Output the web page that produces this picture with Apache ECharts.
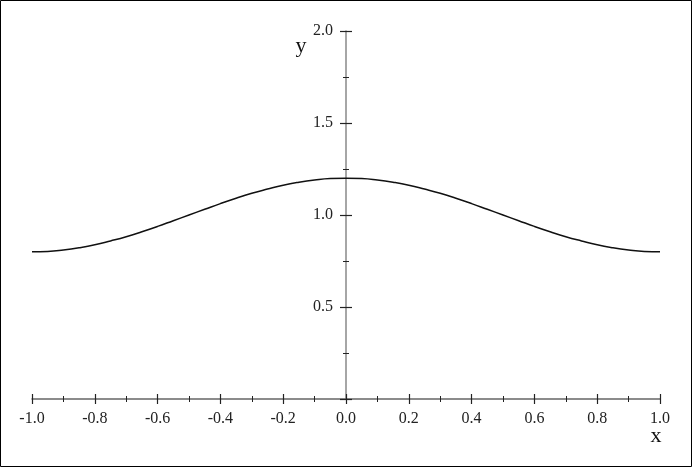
<!DOCTYPE html>
<html>
<head>
<meta charset="utf-8">
<script src="https://cdn.jsdelivr.net/npm/echarts@6/dist/echarts.min.js"></script>
<style>
html,body{margin:0;padding:0;background:#fff;}
#chart{width:692px;height:467px;}
</style>
</head>
<body>
<div id="chart"></div>
<script>
const xValues = [-1.0,-0.95,-0.9,-0.85,-0.8,-0.75,-0.7,-0.65,-0.6,-0.55,-0.5,-0.45,-0.4,-0.35,-0.3,-0.25,-0.2,-0.15,-0.1,-0.05,
  0.0,0.05,0.1,0.15,0.2,0.25,0.3,0.35,0.4,0.45,0.5,0.55,0.6,0.65,0.7,0.75,0.8,0.85,0.9,0.95,1.0];
const yValues = [0.800,0.802,0.810,0.822,0.838,0.859,0.882,0.909,0.938,0.969,1.000,1.031,1.062,1.091,1.118,1.141,1.162,1.178,1.190,1.198,
  1.200,1.198,1.190,1.178,1.162,1.141,1.118,1.091,1.062,1.031,1.000,0.969,0.938,0.909,0.882,0.859,0.838,0.822,0.810,0.802,0.800];
const xAxisName = 'x';
const yAxisName = 'y';

const serif = '"Liberation Serif", "DejaVu Serif", serif';
const tickColor = '#222';
const lineColor = '#888';
const gridLeft = 32, gridWidth = 628;
// y axis sits at x = 0 (middle of the grid)
const yAxisOffset = -gridWidth / 2;

const chart = echarts.init(document.getElementById('chart'), null, {renderer: 'canvas'});
const pts = xValues.map((x, i) => [x, yValues[i]]);

function xAxisCfg(inside, showLabel, showLine) {
  return {
    type: 'value', min: -1, max: 1, interval: 0.2, position: 'bottom',
    axisLine: {show: showLine, onZero: false, lineStyle: {color: '#666', width: 1.5}},
    axisTick: {show: true, inside: inside, length: 5, lineStyle: {color: tickColor, width: 1.2}},
    minorTick: {show: true, splitNumber: 2, length: 3, lineStyle: {color: tickColor, width: 1}},
    splitLine: {show: false},
    axisLabel: {show: showLabel, margin: 12, color: '#222', fontFamily: serif, fontSize: 16,
      formatter: v => v.toFixed(1)}
  };
}
function yAxisCfg(inside, showLabel, showLine) {
  return {
    type: 'value', min: 0, max: 2, interval: 0.5, position: 'left', offset: yAxisOffset,
    axisLine: {show: showLine, onZero: false, lineStyle: {color: lineColor, width: 1.5}},
    axisTick: {show: true, inside: inside, length: 6, lineStyle: {color: tickColor, width: 1.2}},
    minorTick: {show: true, splitNumber: 2, length: 3, lineStyle: {color: tickColor, width: 1}},
    splitLine: {show: false},
    axisLabel: {show: showLabel, margin: 13, color: '#222', fontFamily: serif, fontSize: 16,
      formatter: v => v === 0 ? '' : v.toFixed(1)}
  };
}

chart.setOption({
  animation: false,
  backgroundColor: '#fff',
  grid: {left: gridLeft, right: 692 - gridLeft - gridWidth, top: 31, bottom: 68, containLabel: false, outerBoundsMode: 'none'},
  xAxis: [xAxisCfg(false, true, true), xAxisCfg(true, false, false)],
  yAxis: [yAxisCfg(false, true, true), yAxisCfg(true, false, false)],
  series: [{
    type: 'line', xAxisIndex: 0, yAxisIndex: 0, data: pts, smooth: true,
    showSymbol: false, symbol: 'none',
    lineStyle: {color: '#111', width: 1.5}
  }],
  graphic: [
    {type: 'rect', shape: {x: 0.5, y: 0.5, width: 691, height: 466}, style: {fill: 'none', stroke: '#000', lineWidth: 1}, silent: true},
    {type: 'text', x: 656, y: 436, style: {text: xAxisName, font: '22px ' + serif, fill: '#111', textAlign: 'center', textVerticalAlign: 'middle'}},
    {type: 'text', x: 301, y: 46, style: {text: yAxisName, font: '22px ' + serif, fill: '#111', textAlign: 'center', textVerticalAlign: 'middle'}}
  ]
});
</script>
</body>
</html>
